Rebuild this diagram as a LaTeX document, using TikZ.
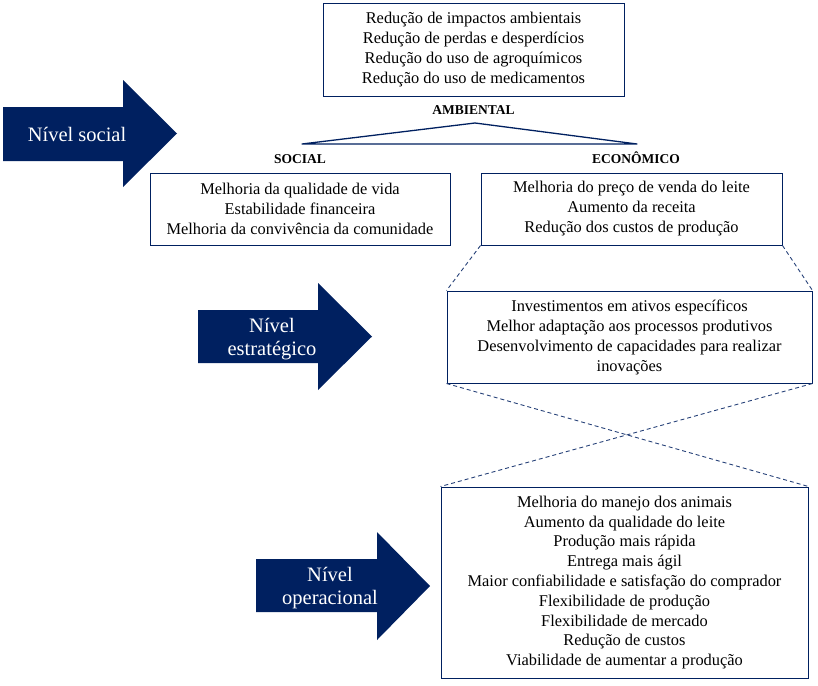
\documentclass[tikz,border=0pt]{standalone}
\usepackage{fontspec}
\setmainfont{Liberation Serif}
\definecolor{azulnivel}{RGB}{0,32,96}
\tikzset{
  caixa/.style={draw=azulnivel, line width=1pt, align=center, inner sep=0pt,
    font=\fontsize{16.4}{20}\selectfont},
  rotulo/.style={font=\fontsize{13.5}{15}\selectfont\bfseries, inner sep=0pt, anchor=base},
  seta/.style={fill=azulnivel},
  textoseta/.style={text=white, align=center, inner sep=0pt,
    font=\fontsize{20.5}{23}\selectfont},
  ligacao/.style={draw=azulnivel!85, line width=0.9pt, dash pattern=on 4pt off 3pt}
}
\begin{document}
\begin{tikzpicture}[x=1pt,y=-1pt]
                \useasboundingbox (0,0) rectangle (818,685);
                {

                % Drawing box ambiental
                \node [caixa, minimum width=301pt, minimum height=92pt] (ambiental) at (473.5,50)
                  {Redução de impactos ambientais\\Redução de perdas e desperdícios\\Redução do uso de agroquímicos\\Redução do uso de medicamentos};

                % Drawing labels of the triangle
                \node [rotulo] (rotuloambiental) at (473.5,114) {AMBIENTAL};
                \node [rotulo] (rotulosocial) at (300,163) {SOCIAL};
                \node [rotulo] (rotuloeconomico) at (636,163) {ECONÔMICO};

                % Drawing triangle
                \coordinate (apice) at (475,123);
                \coordinate (vertsocial) at (302,144);
                \coordinate (verteconomico) at (637,144);
                \draw [azulnivel, line width=1.3pt, line join=round] (vertsocial) -- (apice) -- (verteconomico) -- cycle;%

                % Drawing box social
                \node [caixa, minimum width=300pt, minimum height=72pt] (social) at (300,209)
                  {Melhoria da qualidade de vida\\Estabilidade financeira\\Melhoria da convivência da comunidade};

                % Drawing box economico
                \node [caixa, minimum width=301pt, minimum height=72pt] (economico) at (631.5,209)
                  {Melhoria do preço de venda do leite\\Aumento da receita\\Redução dos custos de produção};

                % Drawing box estrategico
                \node [caixa, minimum width=365pt, minimum height=92pt] (estrategico) at (629.5,337)
                  {Investimentos em ativos específicos\\Melhor adaptação aos processos produtivos\\Desenvolvimento de capacidades para realizar\\inovações};

                % Drawing box operacional
                \node [caixa, minimum width=367pt, minimum height=191pt, font=\fontsize{16.4}{19.8}\selectfont] (operacional) at (624.5,582.5)
                  {Melhoria do manejo dos animais\\Aumento da qualidade do leite\\Produção mais rápida\\Entrega mais ágil\\Maior confiabilidade e satisfação do comprador\\Flexibilidade de produção\\Flexibilidade de mercado\\Redução de custos\\Viabilidade de aumentar a produção};

                % Drawing dashed lines
                \draw [ligacao] (economico.south west) -- (estrategico.north west);%
                \draw [ligacao] (economico.south east) -- (estrategico.north east);%
                \draw [ligacao] (estrategico.south west) -- (operacional.north east);%
                \draw [ligacao] (estrategico.south east) -- (operacional.north west);%

                % Drawing arrow nivel social
                \fill [seta] (3,107) -- (123,107) -- (123,80) -- (177,133.5) -- (123,187) -- (123,161) -- (3,161) -- cycle;%
                \node [textoseta] (nivelsocial) at (77,134) {Nível social};

                % Drawing arrow nivel estrategico
                \fill [seta] (198,310) -- (318,310) -- (318,283) -- (372,336.5) -- (318,390) -- (318,363) -- (198,363) -- cycle;%
                \node [textoseta] (nivelestrategico) at (272,339) {Nível\\estratégico};

                % Drawing arrow nivel operacional
                \fill [seta] (256,559) -- (377,559) -- (377,532) -- (430,586) -- (377,640) -- (377,612) -- (256,612) -- cycle;%
                \node [textoseta] (niveloperacional) at (330,588) {Nível\\operacional};
                }
\end{tikzpicture}
\end{document}
